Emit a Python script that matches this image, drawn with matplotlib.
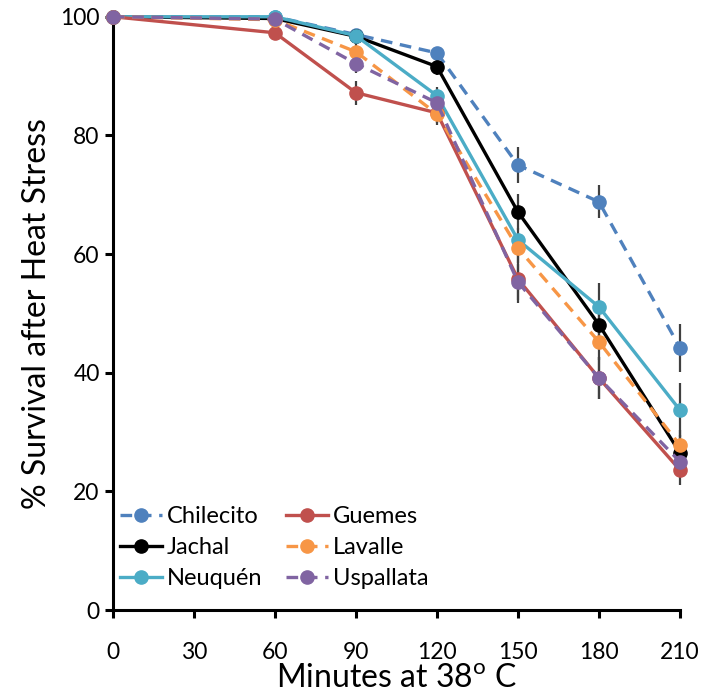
import matplotlib
matplotlib.use("Agg")
import matplotlib.pyplot as plt

plt.rcParams['font.family'] = ['Lato', 'DejaVu Sans']
plt.rcParams['mathtext.fontset'] = 'custom'
plt.rcParams['mathtext.rm'] = 'Lato'

# data
minutes = [0, 60, 90, 120, 150, 180, 210]
names = ["Chilecito", "Jachal", "Neuquén", "Guemes", "Lavalle", "Uspallata"]
chilecito = [100, 100, 97.0, 93.9, 75.0, 68.8, 44.2]
jachal = [100, 99.7, 96.7, 91.6, 67.1, 48.1, 26.5]
neuquen = [100, 100, 96.8, 86.7, 62.4, 51.1, 33.7]
guemes = [100, 97.3, 87.2, 83.8, 55.8, 39.1, 23.6]
lavalle = [100, 99.5, 94.1, 83.6, 61.0, 45.2, 27.8]
uspallata = [100, 99.6, 92.1, 85.5, 55.3, 39.1, 25.0]

err_chilecito = [0, 0, 1.0, 1.0, 3.0, 2.8, 4.0]
err_jachal = [0, 0, 1.0, 1.5, 3.0, 3.5, 3.0]
err_neuquen = [0, 0, 1.0, 1.5, 2.0, 4.0, 4.5]
err_guemes = [0, 0.5, 2.0, 2.0, 4.0, 3.5, 2.5]
err_lavalle = [0, 0.5, 1.5, 1.5, 2.5, 3.0, 2.5]
err_uspallata = [0, 0.5, 1.5, 1.5, 3.0, 3.5, 2.5]

series = [chilecito, jachal, neuquen, guemes, lavalle, uspallata]
errors = [err_chilecito, err_jachal, err_neuquen, err_guemes, err_lavalle, err_uspallata]
colors = ["#4F81BD", "#000000", "#4BACC6", "#C0504D", "#F79646", "#8064A2"]
dashed = [True, False, False, False, True, True]

fig = plt.figure(figsize=(7.01, 6.98), dpi=100)
ax = fig.add_axes([0.161, 0.126, 0.809, 0.85])

# error bars first, behind the lines
for vals, err in zip(series, errors):
    ax.errorbar(minutes, vals, yerr=err, fmt='none', ecolor='#404040',
                elinewidth=1.6, capsize=0, zorder=1, clip_on=False)

for name, vals, col, d in zip(names, series, colors, dashed):
    ls = (0, (3.5, 2.3)) if d else '-'
    ax.plot(minutes, vals, color=col, linestyle=ls, linewidth=2.4,
            marker='o', markersize=9.5, label=name, zorder=3, clip_on=False)

ax.set_xlim(0, 210)
ax.set_ylim(0, 100)
ax.set_xticks(range(0, 211, 30))
ax.set_yticks(range(0, 101, 20))
ax.spines['top'].set_visible(False)
ax.spines['right'].set_visible(False)
for s in ['left', 'bottom']:
    ax.spines[s].set_linewidth(2.2)
ax.tick_params(axis='both', direction='out', length=6, width=2.2, labelsize=16.5)
ax.tick_params(axis='x', pad=17)

ax.set_xlabel("Minutes at 38$^{\\mathrm{o}}$ C", fontsize=23, labelpad=1)
ax.set_ylabel("% Survival after Heat Stress", fontsize=23, labelpad=6)

ax.legend(loc='upper left', bbox_to_anchor=(0.012, 0.175), ncol=2, frameon=False,
          fontsize=17, handlelength=1.8, handletextpad=0.2, columnspacing=1.0,
          labelspacing=0.42, borderpad=0, borderaxespad=0)

fig.savefig("out.png", dpi=100)
